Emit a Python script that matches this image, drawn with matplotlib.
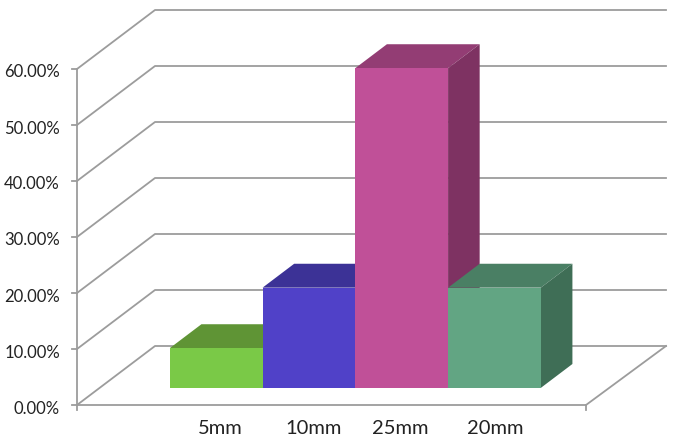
import matplotlib
matplotlib.use("Agg")
import matplotlib.pyplot as plt
import numpy as np

categories = ["5mm", "10mm", "25mm", "20mm"]
values = [7.1, 17.9, 57.1, 17.9]
tick_values = [0, 10, 20, 30, 40, 50, 60]
tick_labels = ["0.00%", "10.00%", "20.00%", "30.00%", "40.00%", "50.00%", "60.00%"]

front_colors = ["#7AC947", "#5041C8", "#C05098", "#62A583"]
top_colors = ["#5F9435", "#3C3296", "#933D74", "#4A7F64"]
side_colors = ["#4F7D2C", "#30287A", "#7E3262", "#3F6E56"]

W, H = 676, 438
PX_X = 92.75  # pixels per category
PX_Y = 5.6    # pixels per percent
X0 = 216.2    # pixel of first bar centre
Y0 = 405      # pixel of 0%

plt.rcParams["font.family"] = ["Lato", "DejaVu Sans"]
fig = plt.figure(figsize=(W / 100, H / 100), dpi=100)
ax = fig.add_axes([0, 0, 1, 1])
ax.set_xlim(-X0 / PX_X, (W - X0) / PX_X)
ax.set_ylim((Y0 - H) / PX_Y, Y0 / PX_Y)
ax.axis("off")

# depth of the box, as data units
DX = 78 / PX_X
DY = 59 / PX_Y
left = (77 - X0) / PX_X
right = (586 - X0) / PX_X
tick = 5 / PX_X
drop = 5 / PX_Y

grid = "#9C9C9C"
lw = 1.3

# gridlines: along the side wall then the back wall
for v in tick_values:
    ax.plot([left, left + DX, right + DX + 2 / PX_X], [v, v + DY, v + DY], color=grid, lw=lw, zorder=1)
    ax.plot([left - tick, left], [v, v], color=grid, lw=lw, zorder=1)

# axis lines and floor
ax.plot([left, left], [-drop, 60], color=grid, lw=lw, zorder=1)
ax.plot([left, right, right + DX + 2 / PX_X], [0, 0, DY], color=grid, lw=lw, zorder=1)
ax.plot([right, right], [-drop, 0], color=grid, lw=lw, zorder=1)

# bars, drawn left to right so each one covers the previous
near = 0.29
far = 0.695
width = 1.0
for i, v in enumerate(values):
    x1 = i - width / 2
    x2 = i + width / 2
    base = near * DY
    top = base + v
    ox = (far - near) * DX
    oy = (far - near) * DY
    z = 2 + i
    ax.fill([x1, x2, x2 + ox, x1 + ox], [top, top, top + oy, top + oy],
            color=top_colors[i], lw=0, zorder=z)
    ax.fill([x2, x2 + ox, x2 + ox, x2], [base, base + oy, top + oy, top],
            color=side_colors[i], lw=0, zorder=z)
    ax.bar(i, v, width=width, bottom=base, color=front_colors[i], lw=0, zorder=z + 0.5)

# y tick labels
for v, lab in zip(tick_values, tick_labels):
    ax.text(left - 17 / PX_X, v - 3.5 / PX_Y, lab, ha="right", va="center", fontsize=12, color="#222222")

# category labels
label_shift = [0.04, 0.05, -0.02, 0.01]
for i, lab in enumerate(categories):
    ax.text(i + label_shift[i], -23 / PX_Y, lab, ha="center", va="center", fontsize=14.5, color="#222222")

fig.savefig("out.png", dpi=100)
